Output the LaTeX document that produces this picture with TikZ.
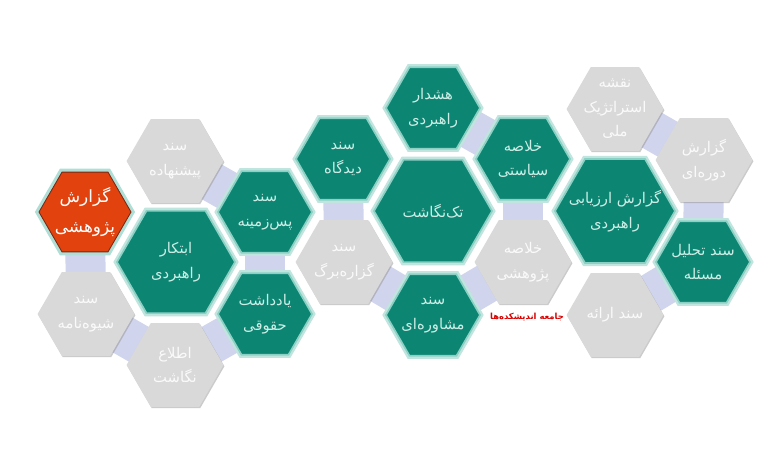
\documentclass[tikz,border=0pt]{standalone}
\usepackage{fontspec}
\newfontfamily\farsi[Script=Arabic]{DejaVu Sans}
\TeXXeTstate=1
\usetikzlibrary{shapes.geometric,shadows,backgrounds}
\definecolor{hexteal}{RGB}{12,133,115}
\definecolor{hexglow}{RGB}{140,208,196}
\definecolor{hexgray}{RGB}{217,217,217}
\definecolor{hexred}{RGB}{226,66,14}
\definecolor{hexredline}{RGB}{120,40,20}
\definecolor{hexlink}{RGB}{208,212,236}
\definecolor{tealtext}{RGB}{205,238,230}
\newcommand{\fa}[1]{\beginR#1\endR}
\tikzset{
  hex/.style={regular polygon, regular polygon sides=6, inner sep=0pt, minimum size=#1},
  tealhex/.style={hex=#1, fill=hexteal, draw=hexglow, line width=1.2pt,
    preaction={draw=hexglow!55, line width=4.5pt}},
  tealhex/.default=2.35cm,
  grayhex/.style={hex=2.42cm, fill=hexgray,
    drop shadow={shadow xshift=0.7pt, shadow yshift=-0.9pt, fill=black!45, opacity=0.45}},
  redhex/.style={hex=2.3cm, fill=hexred, draw=hexredline, line width=0.6pt,
    preaction={draw=hexglow!70, line width=5pt}},
  tealtxt/.style={font=\farsi\fontsize{10.5}{17.5}\selectfont, text=tealtext, align=center},
  graytxt/.style={font=\farsi\fontsize{10.5}{17.5}\selectfont, text=white!96!gray, align=center},
  redtxt/.style={font=\farsi\fontsize{12}{22}\selectfont, text=white, align=center},
  link/.style={draw=hexlink, line width=1cm},
  wmark/.style={font=\farsi\bfseries\fontsize{6}{8}\selectfont, text=red!85!black}
}
\begin{document}
\begin{tikzpicture}[x=0.025cm,y=-0.025cm]
\useasboundingbox (0,0) rectangle (780,470);

% left group
\node[redhex]  (gozaresh)   at (85,212)  {};
\node[grayhex] (pishnahade) at (175,161) {};
\node[tealhex=2.95cm] (ebtekar) at (176,262) {};
\node[tealhex] (paszamine)  at (265,212) {};
\node[tealhex] (yaddasht)   at (265,314) {};
\node[grayhex] (shivename)  at (86,314)  {};
\node[grayhex] (etela)      at (175,365) {};

% middle group
\node[tealhex] (didgah)     at (343,159) {};
\node[tealhex] (hoshdar)    at (433,108) {};
\node[tealhex=2.95cm] (taknegasht) at (433,211) {};
\node[tealhex] (siasati)    at (523,159) {};
\node[grayhex] (gozarebarg) at (344,262) {};
\node[tealhex] (moshavere)  at (433,315) {};
\node[grayhex] (pazhuheshi) at (523,262) {};

% right group
\node[grayhex] (naghshe)    at (615,109) {};
\node[grayhex] (dore)       at (704,160) {};
\node[tealhex=3cm] (arzyabi) at (615,211) {};
\node[tealhex] (tahlil)     at (703,262) {};
\node[grayhex] (erae)       at (615,315) {};

% texts
\node[redtxt]  at (gozaresh)   {\fa{گزارش}\\\fa{پژوهشی}};
\node[graytxt] at (pishnahade) {\fa{سند}\\\fa{پیشنهاده}};
\node[tealtxt] at (ebtekar)    {\fa{ابتکار}\\\fa{راهبردی}};
\node[tealtxt] at (paszamine)  {\fa{سند}\\\fa{پس‌زمینه}};
\node[tealtxt] at (yaddasht)   {\fa{یادداشت}\\\fa{حقوقی}};
\node[graytxt] at (shivename)  {\fa{سند}\\\fa{شیوه‌نامه}};
\node[graytxt] at (etela)      {\fa{اطلاع}\\\fa{نگاشت}};
\node[tealtxt] at (didgah)     {\fa{سند}\\\fa{دیدگاه}};
\node[tealtxt] at (hoshdar)    {\fa{هشدار}\\\fa{راهبردی}};
\node[tealtxt] at (taknegasht) {\fa{تک‌نگاشت}};
\node[tealtxt] at (siasati)    {\fa{خلاصه}\\\fa{سیاستی}};
\node[graytxt] at (gozarebarg) {\fa{سند}\\\fa{گزاره‌برگ}};
\node[tealtxt] at (moshavere)  {\fa{سند}\\\fa{مشاوره‌ای}};
\node[graytxt] at (pazhuheshi) {\fa{خلاصه}\\\fa{پژوهشی}};
\node[graytxt] at (naghshe)    {\fa{نقشه}\\\fa{استراتژیک}\\\fa{ملی}};
\node[graytxt] at (dore)       {\fa{گزارش}\\\fa{دوره‌ای}};
\node[tealtxt] at (arzyabi)    {\fa{گزارش ارزیابی}\\\fa{راهبردی}};
\node[tealtxt] at (tahlil)     {\fa{سند تحلیل}\\\fa{مسئله}};
\node[graytxt] at (erae)       {\fa{سند ارائه}};

\node[wmark] (jamee) at (527,317) {\fa{جامعه اندیشکده‌ها}};

% links behind the hexagons
\begin{scope}[on background layer]
\fill[white] (0,0) rectangle (780,470);
\draw[link] (gozaresh.center)   -- (shivename.center);
\draw[link] (pishnahade.center) -- (paszamine.center);
\draw[link] (paszamine.center)  -- (yaddasht.center);
\draw[link] (shivename.center)  -- (etela.center);
\draw[link] (etela.center)      -- (yaddasht.center);
\draw[link] (didgah.center)     -- (gozarebarg.center);
\draw[link] (hoshdar.center)    -- (siasati.center);
\draw[link] (gozarebarg.center) -- (moshavere.center);
\draw[link] (moshavere.center)  -- (pazhuheshi.center);
\draw[link] (siasati.center)    -- (pazhuheshi.center);
\draw[link] (naghshe.center)    -- (dore.center);
\draw[link] (dore.center)       -- (tahlil.center);
\draw[link] (tahlil.center)     -- (erae.center);
\end{scope}
\end{tikzpicture}
\end{document}
